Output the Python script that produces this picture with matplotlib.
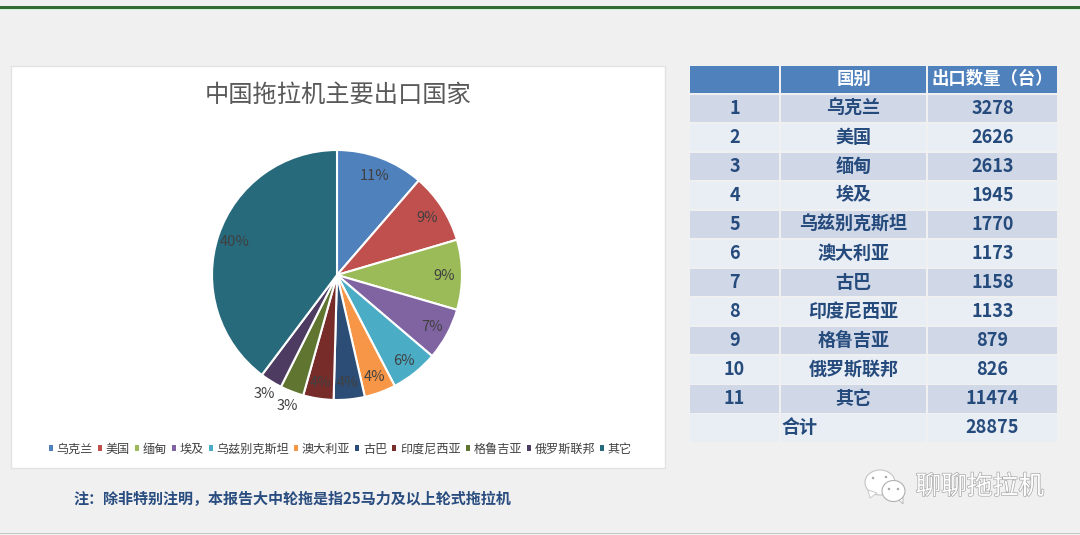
import math
import matplotlib
matplotlib.use('Agg')
import matplotlib.pyplot as plt
from matplotlib.patches import Rectangle, Ellipse, Polygon, Patch
import matplotlib.patheffects as pe

plt.rcParams['font.family'] = ['Noto Sans CJK SC', 'DejaVu Sans']

countries = ['乌克兰', '美国', '缅甸', '埃及', '乌兹别克斯坦', '澳大利亚', '古巴',
             '印度尼西亚', '格鲁吉亚', '俄罗斯联邦', '其它']
counts = [3278, 2626, 2613, 1945, 1770, 1173, 1158, 1133, 879, 826, 11474]
total = 28875
pie_colors = ['#4f81bd', '#c0504d', '#9bbb59', '#8064a2', '#4bacc6', '#f79646',
              '#2c4d75', '#772c2a', '#5f7530', '#4d3b62', '#276a7c']
title = '中国拖拉机主要出口国家'
note = '注\uff1a除非特别注明\uff0c本报告大中轮拖是指25马力及以上轮式拖拉机'
watermark = '聊聊拖拉机'
table_headers = ['', '国别', '出口数量\uff08台\uff09']

W, H = 1080, 535
fig = plt.figure(figsize=(W / 100, H / 100), dpi=100, facecolor='#f0f0f0')

# background layer in pixel coordinates
bg = fig.add_axes([0, 0, 1, 1])
bg.set_xlim(0, W)
bg.set_ylim(H, 0)
bg.axis('off')

bg.add_patch(Rectangle((0, 5.5), W, 3, color='#2f6b32', lw=0))
bg.add_patch(Rectangle((0, 8.5), W, 1, color='#d8efd8', lw=0))
bg.add_patch(Rectangle((0, 532.5), W, 1.5, color='#c8c8c8', lw=0))
bg.add_patch(Rectangle((10.5, 66), 654, 402, fc='white', ec='#e2e2e2', lw=1))
bg.text(338, 95, title, ha='center', va='center', fontsize=17.5, color='#595959')
bg.text(73, 499, note, ha='left', va='center', fontsize=10.85, color='#2a4d80', fontweight='bold')

# table
col_x = [690, 781, 928]
col_w = [89, 145, 129]
row_h = 29.05
first_row = 94
bg_head, bg_dark, bg_light = '#4f81bd', '#d0d8e8', '#e9edf4'
text_col = '#254a7c'

for x, w, label in zip(col_x, col_w, table_headers):
    bg.add_patch(Rectangle((x, 66), w, 26.5, color=bg_head, lw=0))
    bg.text(x + w / 2, 78.5, label, ha='center', va='center', fontsize=12.5,
            color='white', fontweight='bold')

for i, (name, n) in enumerate(zip(countries, counts)):
    y = first_row + i * row_h
    fc = bg_dark if i % 2 == 0 else bg_light
    cells = [str(i + 1), name, str(n)]
    for x, w, label in zip(col_x, col_w, cells):
        bg.add_patch(Rectangle((x, y + 0.5), w, row_h - 1.5, color=fc, lw=0))
        bg.text(x + w / 2, y + row_h / 2 - 0.5, label, ha='center', va='center',
                fontsize=13, color=text_col, fontweight='bold')

y = first_row + len(countries) * row_h
for x, w in zip(col_x, col_w):
    bg.add_patch(Rectangle((x, y + 0.5), w, row_h - 1.5, color=bg_light, lw=0))
bg.text(col_x[1], y + row_h / 2 - 0.5, '合计', ha='left', va='center',
        fontsize=13, color=text_col, fontweight='bold')
bg.text(col_x[2] + col_w[2] / 2, y + row_h / 2 - 0.5, str(total), ha='center', va='center',
        fontsize=13, color=text_col, fontweight='bold')

# wechat style watermark
bg.add_patch(Ellipse((880, 482.5), 30, 25, fc='white', ec='#c4c4c4', lw=0.8))
bg.add_patch(Polygon([(868, 490), (870, 498), (877, 493)], fc='white', ec='#c4c4c4', lw=0.6))
bg.add_patch(Polygon([(897, 498), (903, 504), (903, 493)], fc='white', ec='#b0b0b0', lw=0.6, zorder=2))
bg.add_patch(Ellipse((893.5, 491), 23, 21, fc='white', ec='#b0b0b0', lw=0.8, zorder=3))
for dx, dy, z in [(873, 478, 2), (886, 477, 2), (889, 489, 4), (898, 489, 4)]:
    bg.add_patch(Ellipse((dx, dy), 2.5, 2.5, fc='#a8a8a8', ec='none', zorder=z))
bg.text(980, 487, watermark, ha='center', va='center', fontsize=18.5, color='white',
        path_effects=[pe.withStroke(linewidth=1.0, foreground='#a8a8a8')])

# pie
cx, cy, r = 337, 275, 125
ax = fig.add_axes([(cx - r) / W, 1 - (cy + r) / H, 2 * r / W, 2 * r / H])
ax.patch.set_alpha(0)
wedges, texts, autotexts = ax.pie(
    counts, colors=pie_colors, startangle=90, counterclock=False, radius=1,
    autopct='%.0f%%', pctdistance=0.86,
    wedgeprops={'edgecolor': 'white', 'linewidth': 1.5},
    textprops={'fontsize': 10.5, 'color': '#404040'},
)
ax.set_xlim(-1, 1)
ax.set_ylim(-1, 1)
for w, t in zip(wedges[8:10], autotexts[8:10]):
    mid = math.radians((w.theta1 + w.theta2) / 2)
    t.set_position((1.11 * math.cos(mid), 1.11 * math.sin(mid)))
for t in autotexts:
    px, py = t.get_position()
    t.set_position((px, py - 0.012))
for w in wedges:
    w.set_clip_on(False)

handles = [Patch(facecolor=c, edgecolor='none') for c in pie_colors]
fig.legend(handles, countries, ncol=len(countries), loc='center',
           bbox_to_anchor=(340.5 / W, 1 - 449 / H), frameon=False, fontsize=8.7,
           labelcolor='#404040', handlelength=0.33, handleheight=0.33,
           handletextpad=0.3, columnspacing=0.42, borderpad=0)

fig.savefig('out.png', dpi=100, facecolor=fig.get_facecolor())
